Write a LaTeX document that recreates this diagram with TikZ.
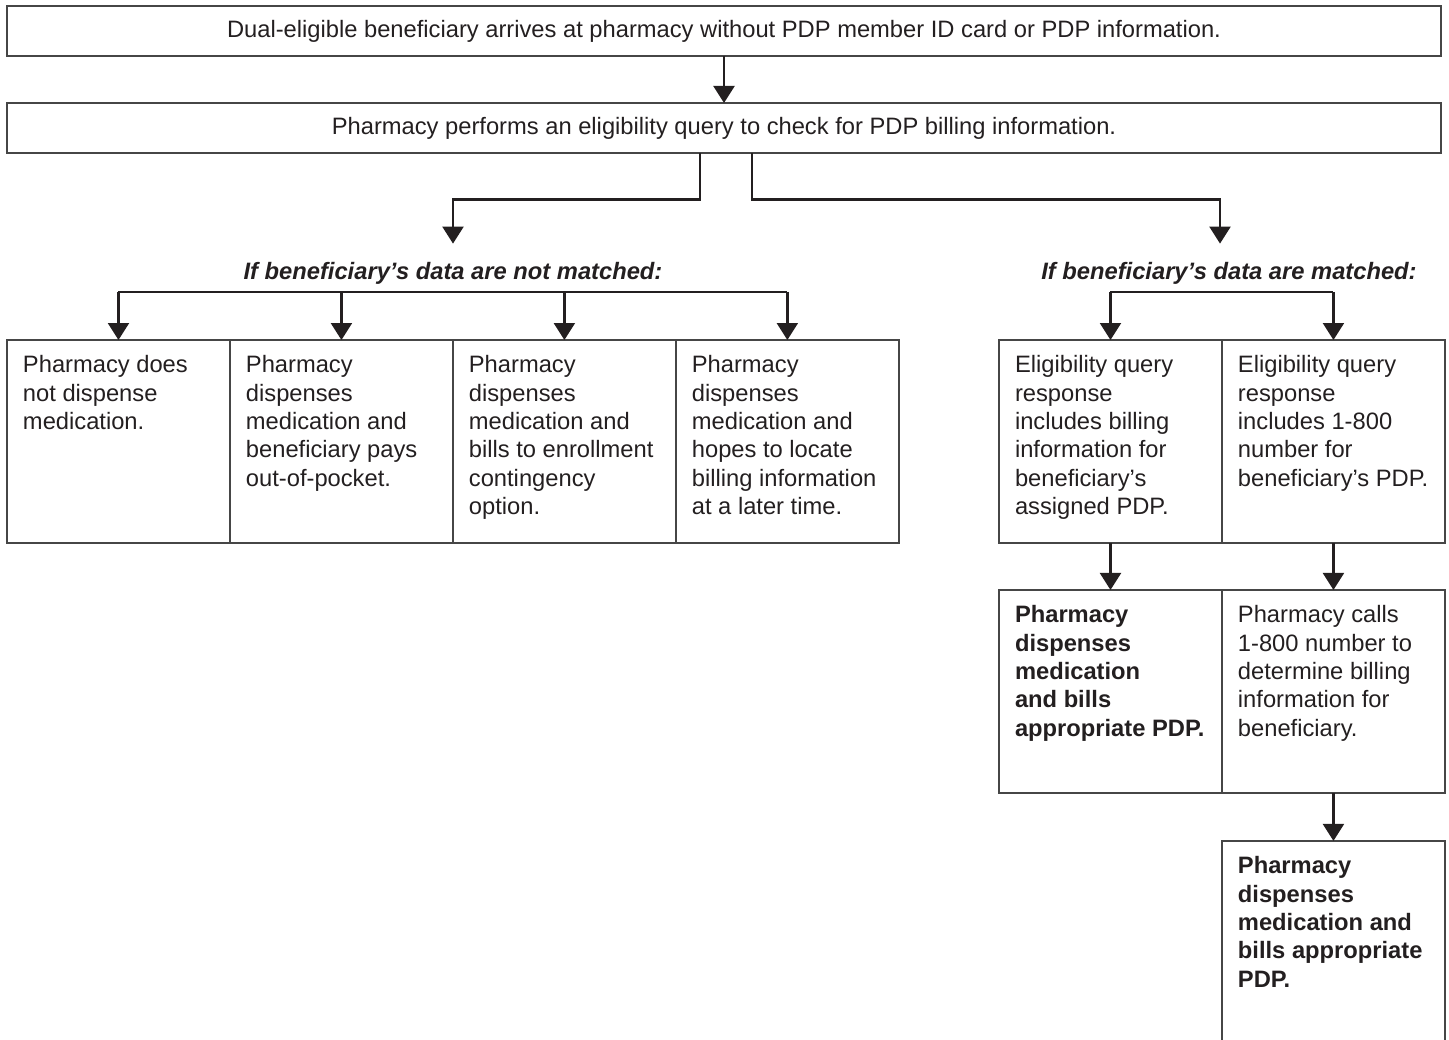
\documentclass[tikz,border=0pt]{standalone}
\usepackage{fontspec}
\setmainfont{Liberation Sans}
\usepackage{tikz}
\usetikzlibrary{arrows.meta,positioning}
\definecolor{inkc}{RGB}{35,31,32}
\definecolor{rulec}{RGB}{70,70,70}
\newcommand{\basefont}{\fontsize{13.5pt}{16.1pt}\selectfont}
\newcommand{\celltext}[1]{\begin{minipage}[t][4.06cm][t]{3.82cm}\raggedright\rule{0pt}{0.66cm}#1\end{minipage}}
\tikzset{
  every node/.style={text=inkc, font=\basefont},
  banner/.style={draw=rulec, line width=0.85pt, minimum width=28.68cm, minimum height=1cm, inner sep=0pt, outer sep=0pt},
  cell/.style={draw=rulec, line width=0.85pt, inner xsep=0.32cm, inner ysep=0pt, outer sep=0pt},
  lbl/.style={font=\basefont\bfseries\itshape, inner xsep=0pt, inner ysep=0.36cm},
  arr/.style={draw=inkc, line width=1.3pt, -{Triangle[length=0.34cm,width=0.42cm]}}
}

\begin{document}
\begin{tikzpicture}[x=0.02cm,y=-0.02cm]
\useasboundingbox (0,0) rectangle (1449,1040);
\clip (0,0) rectangle (1449,1040);
% Top of the chart
\node[banner] (arrive) at (724,31) {Dual-eligible beneficiary arrives at pharmacy without PDP member ID card or PDP information.};
\node[banner, below=0.94cm of arrive] (query) {Pharmacy performs an eligibility query to check for PDP billing information.};
\draw[arr] (arrive) -- (query);
% Branch labels
\node[lbl] (nomatch) at (453,273) {If beneficiary’s data are not matched:};
\node[lbl] (match) at (1229,273) {If beneficiary’s data are matched:};
\draw[arr] ([xshift=-0.48cm]query.south) |- ([yshift=0.88cm]nomatch.north) -- (nomatch.north);
\draw[arr] ([xshift=0.56cm]query.south) |- ([xshift=-0.18cm,yshift=0.88cm]match.north) -- ([xshift=-0.18cm]match.north);
% Not matched
\node[cell, anchor=north west] (nm1) at (7,340) {\celltext{Pharmacy does\\ not dispense\\ medication.}};
\node[cell, right=0pt of nm1] (nm2) {\celltext{Pharmacy\\ dispenses\\ medication and\\ beneficiary pays\\ out-of-pocket.}};
\node[cell, right=0pt of nm2] (nm3) {\celltext{Pharmacy\\ dispenses\\ medication and\\ bills to enrollment\\ contingency\\ option.}};
\node[cell, right=0pt of nm3] (nm4) {\celltext{Pharmacy\\ dispenses\\ medication and\\ hopes to locate\\ billing information\\ at a later time.}};
\coordinate (nmbar) at (0,292);
\draw[draw=inkc, line width=1.3pt] (nmbar -| nm1.north) -- (nmbar -| nm4.north);
\foreach \c in {nm1,nm2,nm3,nm4}
  \draw[arr] (nmbar -| \c.north) -- (\c.north);
% Matched
\node[cell, anchor=north west] (m1) at (999,340) {\celltext{Eligibility query\\ response\\ includes billing\\ information for\\ beneficiary’s\\ assigned PDP.}};
\node[cell, right=0pt of m1] (m2) {\celltext{Eligibility query\\ response\\ includes 1-800\\ number for\\ beneficiary’s PDP.}};
\coordinate (mbar) at (0,292);
\draw[draw=inkc, line width=1.3pt] (mbar -| m1.north) -- (mbar -| m2.north);
\foreach \c in {m1,m2}
  \draw[arr] (mbar -| \c.north) -- (\c.north);
\node[cell, below=0.94cm of m1] (bill1) {\celltext{\bfseries Pharmacy\\ dispenses\\ medication\\ and bills\\ appropriate PDP.}};
\node[cell, right=0pt of bill1] (call) {\celltext{Pharmacy calls\\ 1-800 number to\\ determine billing\\ information for\\ beneficiary.}};
\node[cell, below=0.96cm of call] (bill2) {\celltext{\bfseries Pharmacy\\ dispenses\\ medication and\\ bills appropriate\\ PDP.}};
\draw[arr] (m1) -- (bill1);
\draw[arr] (m2) -- (call);
\draw[arr] (call) -- (bill2);
\end{tikzpicture}
\end{document}
